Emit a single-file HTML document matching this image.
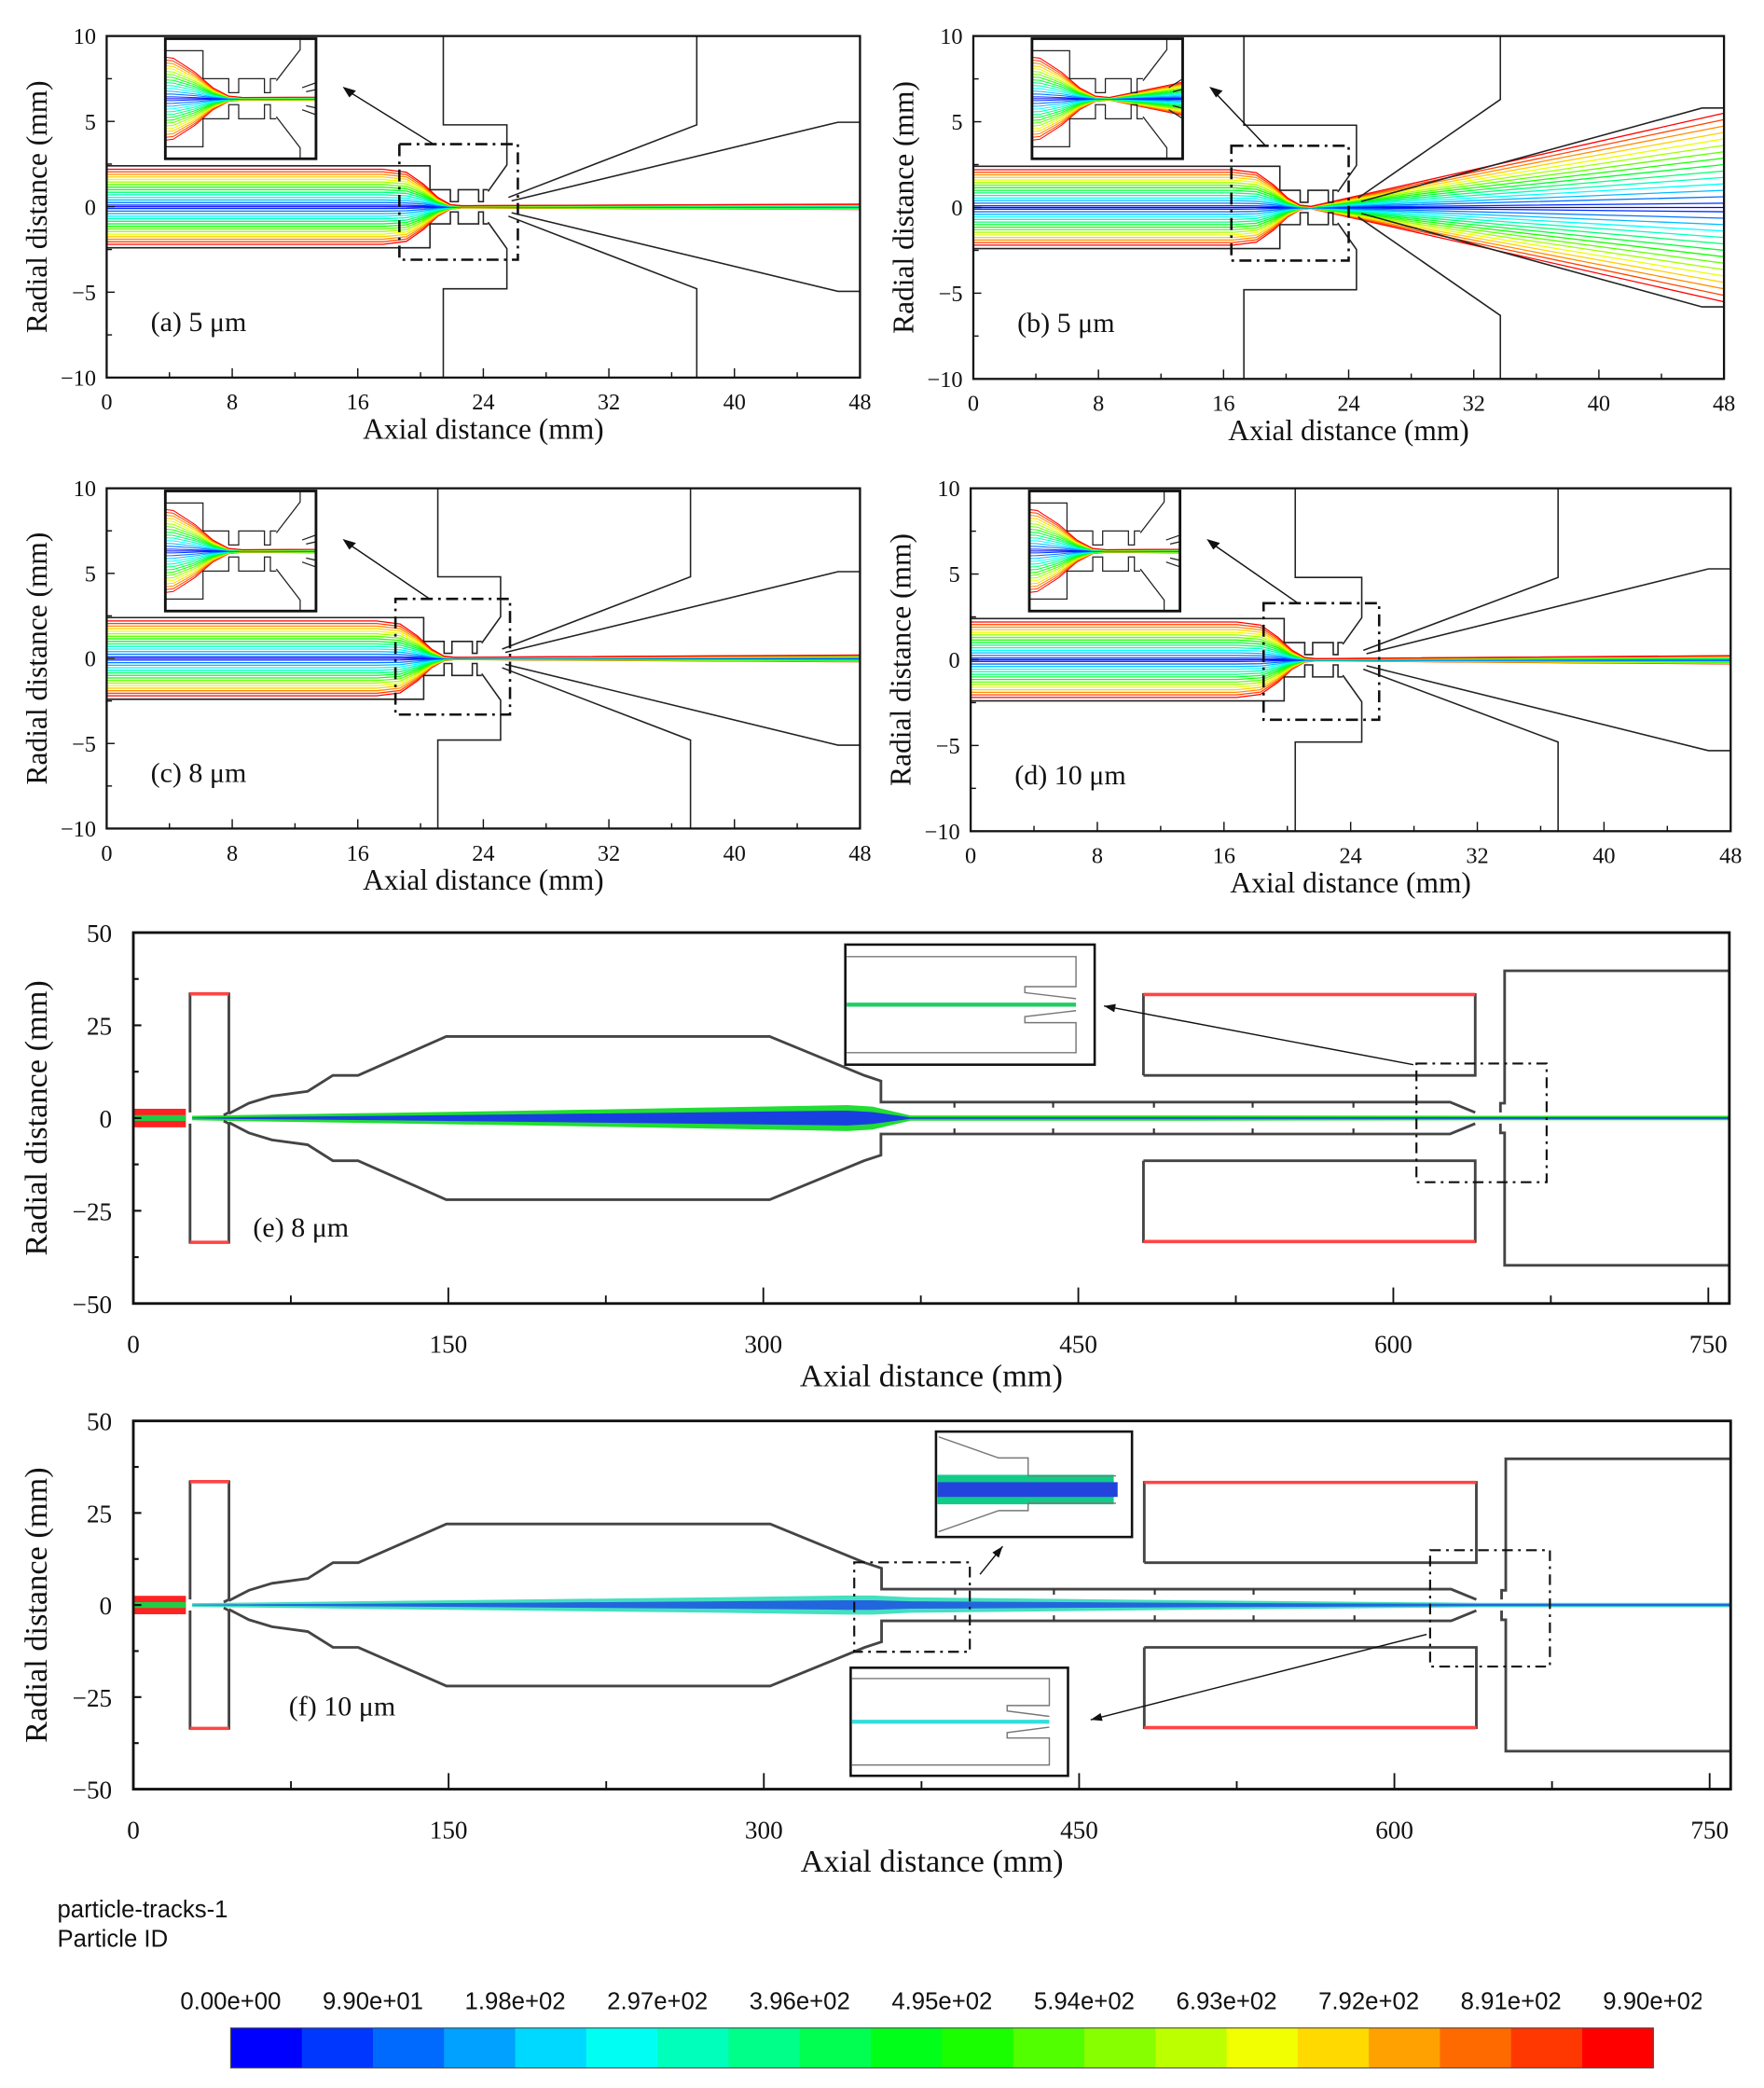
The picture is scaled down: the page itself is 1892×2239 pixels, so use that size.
<!DOCTYPE html>
<html><head><meta charset="utf-8"><style>
html,body{margin:0;padding:0;background:#fff}
svg{display:block}
text{font-family:"Liberation Serif",serif;fill:#111}
.sans{font-family:"Liberation Sans",sans-serif}
</style></head><body>
<svg id="fig" width="1892" height="2239" viewBox="0 0 1323 1565" preserveAspectRatio="none" xmlns="http://www.w3.org/2000/svg">
<rect width="1323" height="1565" fill="#fff"/>
<defs>
<clipPath id="cbclip"><rect x="0" y="1480" width="1276" height="40"/></clipPath>
</defs>
<g id="root"></g>
</svg>
<script>
// ---- data ----
const streamStarts=[-2.2,-2.05,-1.9,-1.75,-1.6,-1.45,-1.3,-1.15,-1.0,-0.85,-0.7,-0.55,-0.4,-0.25,-0.1,0,0.1,0.25,0.4,0.55,0.7,0.85,1.0,1.15,1.3,1.45,1.6,1.75,1.9,2.05,2.2];
const smallXTicks=[0,8,16,24,32,40,48];
const smallYTicks=[10,5,0,-5,-10];
const bigXTicks=[0,150,300,450,600,750];
const bigYTicks=[50,25,0,-25,-50];
const spreadA=0.07, spreadB=2.5, spreadC=0.09, spreadD=0.11;
const jetX=[28,60,120,200,280,340,352,370,500,640,760];
const jetOuterE=[0.6,0.9,1.4,2.1,2.9,3.5,3.1,0.7,0.7,0.6,0.6];
const jetInnerE=[0.1,0.3,0.6,1.1,1.6,2.0,1.6,0.2,0.2,0.2,0.2];
const jetOuterF=[0.5,0.7,1.1,1.6,2.1,2.6,2.6,2.1,1.3,0.6,0.6];
const jetInnerF=[0.1,0.2,0.4,0.7,1.0,1.3,1.3,1.0,0.6,0.3,0.3];
const cbLabels=["0.00e+00","9.90e+01","1.98e+02","2.97e+02","3.96e+02","4.95e+02","5.94e+02","6.93e+02","7.92e+02","8.91e+02","9.90e+02"];
const cbSegments=20;

const NS="http://www.w3.org/2000/svg";
const root=document.getElementById('root');
function el(tag,attrs,parent,txt){const e=document.createElementNS(NS,tag);for(const k in attrs)e.setAttribute(k,attrs[k]);if(txt!==undefined)e.textContent=txt;(parent||root).appendChild(e);return e;}
function pathD(pts,X,Y){return pts.map((p,i)=>(i?'L':'M')+X(p[0]).toFixed(2)+' '+Y(p[1]).toFixed(2)).join('');}
function hueColor(n){return 'hsl('+(240*(1-n)).toFixed(0)+',100%,50%)';}
function mirror(pts){return pts.map(p=>[p[0],-p[1]]);}

function smallContent(g,X,Y,p,sw){
  streamStarts.forEach(s=>{
    const n=Math.abs(s)/2.2;const t=p.t;
    let pts=[[0,s],[t-3,s],[t-1.5,s*0.92],[t-0.4,s*0.6],[t+0.5,s*0.25],[t+1.3,s*0.06],[t+2,s*0.03],[48,s*p.spread]];
    const e=el('path',{d:pathD(pts,X,Y),fill:'none',stroke:hueColor(n),'stroke-width':0.9*sw},g);
    
    
  });
  const t=p.t;
  const geo=[
    [[0,2.4],[t,2.4],[t,1.0],[t+1.3,1.0],[t+1.3,0.3],[t+1.8,0.3],[t+1.8,1.0],[t+3.1,1.0],[t+3.1,0.3],[t+3.4,0.3],[t+3.4,1.0],[t+3.7,1.0]],
    [[p.w,10],[p.w,4.8],[t+4.9,4.8],[t+4.9,2.45],[t+3.7,0.9]],
    [[t+5.0,0.55],[p.c1,p.c1y],[p.c1,10]],
    [[t+5.2,0.35],[46.6,p.ce],[48,p.ce]]
  ];
  geo.forEach(pts=>{
    [pts,mirror(pts)].forEach(q=>{
      const e=el('path',{d:pathD(q,X,Y),fill:'none',stroke:'#222','stroke-width':1.1*sw},g);
      
      
    });
  });
}

function smallPanel(id,x0,x1,y0,y1,p,label){
  const g=el('g',{});
  
  
  const X=v=>x0+(x1-x0)*v/48, Y=v=>y0+(y1-y0)*(10-v)/20;
  const cid='clip'+id;
  const cpp=el('clipPath',{id:cid},g);el('rect',{x:x0,y:y0,width:x1-x0,height:y1-y0},cpp);
  const c=el('g',{'clip-path':'url(#'+cid+')'},g);
  smallContent(c,X,Y,p,1);
  const db=el('rect',{x:X(p.db[0]),y:Y(p.db[3]),width:X(p.db[1])-X(p.db[0]),height:Y(p.db[2])-Y(p.db[3]),fill:'none',stroke:'#111','stroke-width':1.8,'stroke-dasharray':'9 4 2 4'},g);
  
  
  const ix0=x0+44,iy0=y0+2,iw=113,ih=90;
  const icid='iclip'+id;
  const cp=el('clipPath',{id:icid},g);el('rect',{x:ix0,y:iy0,width:iw,height:ih},cp);
  el('rect',{x:ix0,y:iy0,width:iw,height:ih,fill:'#fff'},g);
  const ig=el('g',{'clip-path':'url(#'+icid+')'},g);
  const IX=v=>ix0+iw*(v-(p.t-1.9))/7.6, IY=v=>iy0+ih*(3-v)/6;
  smallContent(ig,IX,IY,p,0.8);
  const ib=el('rect',{x:ix0,y:iy0,width:iw,height:ih,fill:'none',stroke:'#111','stroke-width':2},g);
  
  
  const ax=X(p.db[0]+1.5),ay=Y(p.db[3]);
  const ar=el('line',{x1:ax+8,y1:ay,x2:ix0+iw+22,y2:iy0+38,stroke:'#111','stroke-width':1},g);
  
  
  el('path',{d:'M'+(ix0+iw+20)+' '+(iy0+36)+' l10 3 l-5 5 z',fill:'#111'},g);
  el('rect',{x:x0,y:y0,width:x1-x0,height:y1-y0,fill:'none',stroke:'#111','stroke-width':1.6},g);
  for(let v=0;v<=48;v+=4){const L=(v%8===0)?7:4;el('line',{x1:X(v),x2:X(v),y1:y1,y2:y1-L,stroke:'#111','stroke-width':1},g);}
  for(let v=-10;v<=10;v+=2.5){el('line',{x1:x0,x2:x0+(v%5===0?6:4),y1:Y(v),y2:Y(v),stroke:'#111','stroke-width':1},g);}
  smallXTicks.forEach(v=>{const t=el('text',{x:X(v),y:y1+24,'text-anchor':'middle','font-size':17},g,String(v));});
  smallYTicks.forEach(v=>{const t=el('text',{x:x0-8,y:Y(v)+6,'text-anchor':'end','font-size':17},g,v<0?'\u2212'+(-v):String(v));});
  const xt=el('text',{x:(x0+x1)/2,y:y1+46,'text-anchor':'middle','font-size':22},g,'Axial distance (mm)');
  
  const yt=el('text',{x:0,y:0,'text-anchor':'middle','font-size':22,transform:'translate('+(x0-45)+','+((y0+y1)/2)+') rotate(-90)'},g,'Radial distance (mm)');
  
  const pl=el('text',{x:x0+33,y:y1-35,'font-size':21},g,label);
  
}

smallPanel('a',80,645,27,283,{t:20.6,w:21.45,c1:37.6,c1y:4.8,ce:4.95,spread:spreadA,db:[18.65,26.2,-3.1,3.67]},'(a) 5 \u03bcm');
smallPanel('b',730,1293,27,284,{t:19.6,w:17.3,c1:33.7,c1y:6.3,ce:5.8,spread:spreadB,db:[16.5,24,-3.1,3.6]},'(b) 5 \u03bcm');
smallPanel('c',80,645,366,621,{t:20.2,w:21.1,c1:37.2,c1y:4.8,ce:5.1,spread:spreadC,db:[18.4,25.7,-3.3,3.5]},'(c) 8 \u03bcm');
smallPanel('d',728,1298,366,623,{t:19.8,w:20.5,c1:37.1,c1y:4.8,ce:5.3,spread:spreadD,db:[18.5,25.8,-3.5,3.3]},'(d) 10 \u03bcm');

function bigPanel(id,x0,x1,y0,y1,jo,ji,innerCol,tailCol,label,boxes){
  const g=el('g',{});
  
  
  const X=v=>x0+(x1-x0)*v/760, Y=v=>(y0+y1)/2-(y1-y0)*v/100;
  const outer=jetX.map((x,i)=>[x,jo[i]]).concat(jetX.map((x,i)=>[x,-jo[i]]).reverse());
  const inner=jetX.map((x,i)=>[x,ji[i]]).concat(jetX.map((x,i)=>[x,-ji[i]]).reverse());
  const j1=el('path',{d:pathD(outer,X,Y)+'Z',fill:tailCol,stroke:'none'},g);
  
  const j2=el('path',{d:pathD(inner,X,Y)+'Z',fill:innerCol,stroke:'none'},g);
  
  el('rect',{x:X(0),y:Y(2.5),width:X(25)-X(0),height:Y(-2.5)-Y(2.5),fill:'#f22'},g);
  el('rect',{x:X(0),y:Y(0.8),width:X(25)-X(0),height:Y(-0.8)-Y(0.8),fill:'#2c4'},g);
  const W=(pts,col,w)=>{[pts,mirror(pts)].forEach(q=>{const e=el('path',{d:pathD(q,X,Y),fill:'none',stroke:col||'#444','stroke-width':w||2},g);});};
  W([[27,1.5],[27,33.5],[45.5,33.5],[45.5,1.5],[43,0.8]]);
  W([[27,33.5],[45.5,33.5]],'#f44',2.5);
  W([[45.5,1.2],[55,4],[66,5.9],[83,7.2],[95,11.5],[107,11.5],[149,22],[303,22],[348,11.5],[356,10],[356,4.3],[627,4.3],[639,1.5]]);
  [391,438,486,533,581].forEach(v=>W([[v,4.3],[v,2.8]],'#333',1.5));
  W([[481,11.5],[481,33.3],[639,33.3],[639,11.5],[481,11.5]]);
  W([[481,33.3],[639,33.3]],'#f44',2.5);
  W([[651,1.5],[651,4],[653,4],[653,39.7],[760,39.7]]);
  boxes.db.forEach(b=>{const r=el('rect',{x:X(b[0]),y:Y(b[3]),width:X(b[1])-X(b[0]),height:Y(b[2])-Y(b[3]),fill:'none',stroke:'#111','stroke-width':1.5,'stroke-dasharray':'8 4 2 4'},g);});
  boxes.insets.forEach(b=>{
    el('rect',{x:b[0],y:b[1],width:b[2]-b[0],height:b[3]-b[1],fill:'#fff',stroke:'#111','stroke-width':1.8},g);
    const h=b[3]-b[1],w=b[2]-b[0],cy=b[1]+h*0.55;
    if(b[4]==='jet'){
      el('rect',{x:b[0]+1,y:cy-h*0.14,width:w*0.9,height:h*0.28,fill:'#1c8'},g);
      el('rect',{x:b[0]+1,y:cy-h*0.07,width:w*0.92,height:h*0.14,fill:'#24d'},g);
      el('path',{d:`M${b[0]+2} ${b[1]+h*0.05}L${b[0]+w*0.32} ${b[1]+h*0.25}L${b[0]+w*0.47} ${b[1]+h*0.25}L${b[0]+w*0.47} ${cy-h*0.13}L${b[2]-12} ${cy-h*0.13}M${b[0]+2} ${b[3]-h*0.05}L${b[0]+w*0.32} ${b[3]-h*0.25}L${b[0]+w*0.47} ${b[3]-h*0.25}L${b[0]+w*0.47} ${cy+h*0.13}L${b[2]-12} ${cy+h*0.13}`,fill:'none',stroke:'#777','stroke-width':1},g);
    } else {
      el('line',{x1:b[0]+1,x2:b[2]-14,y1:b[1]+h*0.5,y2:b[1]+h*0.5,stroke:b[4],'stroke-width':3},g);
      el('path',{d:`M${b[0]+1} ${b[1]+h*0.1}H${b[2]-14}V${b[1]+h*0.35}H${b[0]+w*0.72}V${b[1]+h*0.4}L${b[2]-14} ${b[1]+h*0.45}M${b[0]+1} ${b[3]-h*0.1}H${b[2]-14}V${b[3]-h*0.35}H${b[0]+w*0.72}V${b[3]-h*0.4}L${b[2]-14} ${b[3]-h*0.45}`,fill:'none',stroke:'#777','stroke-width':1},g);
    }
  });
  boxes.arrows.forEach(a=>{const l=el('line',{x1:a[0],y1:a[1],x2:a[2],y2:a[3],stroke:'#111','stroke-width':1},g);
    const ang=Math.atan2(a[3]-a[1],a[2]-a[0]);const s=9;
    el('path',{d:`M${a[2]} ${a[3]}L${a[2]-s*Math.cos(ang-0.35)} ${a[3]-s*Math.sin(ang-0.35)}L${a[2]-s*Math.cos(ang+0.35)} ${a[3]-s*Math.sin(ang+0.35)}Z`,fill:'#111'},g);});
  el('rect',{x:x0,y:y0,width:x1-x0,height:y1-y0,fill:'none',stroke:'#111','stroke-width':2},g);
  for(let v=0;v<=750;v+=75){el('line',{x1:X(v),x2:X(v),y1:y1,y2:y1-(v%150===0?12:6),stroke:'#111','stroke-width':1.3},g);}
  for(let v=-50;v<=50;v+=12.5){el('line',{x1:x0,x2:x0+(v%25===0?6:4),y1:Y(v),y2:Y(v),stroke:'#111','stroke-width':1.5},g);}
  bigXTicks.forEach(v=>{const t=el('text',{x:X(v),y:y1+37,'text-anchor':'middle','font-size':19},g,String(v));});
  bigYTicks.forEach(v=>{const t=el('text',{x:x0-16,y:Y(v)+7,'text-anchor':'end','font-size':19},g,v<0?'\u2212'+(-v):String(v));});
  const xt=el('text',{x:(x0+x1)/2,y:y1+62,'text-anchor':'middle','font-size':24},g,'Axial distance (mm)');
  
  const yt=el('text',{x:0,y:0,'text-anchor':'middle','font-size':24,transform:'translate('+(x0-65)+','+((y0+y1)/2)+') rotate(-90)'},g,'Radial distance (mm)');
  
  const pl=el('text',{x:X(label[1]),y:Y(label[2]),'font-size':21},g,label[0]);
  
}
bigPanel('e',100,1297,699,977,jetOuterE,jetInnerE,'#1840e0','#22dd33',['(e) 8 \u03bcm',57,-32],
  {db:[[611,673,-17.3,14.7]],insets:[[634,708,821,798,'#2c6']],arrows:[[1060,798,828,754]]});
bigPanel('f',100,1298,1065,1341,jetOuterF,jetInnerF,'#2266dd','#44e0c0',['(f) 10 \u03bcm',74,-30],
  {db:[[343,398,-12.7,11.6],[617,674,-16.7,14.9]],insets:[[702,1073,849,1152,'jet'],[638,1250,801,1331,'#3dd']],arrows:[[735,1180,752,1159],[1070,1225,818,1289]]});

const t1=el('text',{x:43,y:1437,'font-size':18,class:'sans'},root,'particle-tracks-1');
const t2=el('text',{x:43,y:1459,'font-size':18,class:'sans'},root,'Particle ID');
const cbx0=173,cbx1=1240,cby=1520,cbh=30;
const cb=el('g',{});
for(let i=0;i<cbSegments;i++){const w=(cbx1-cbx0)/cbSegments;const r=el('rect',{x:cbx0+i*w,y:cby,width:w+0.5,height:cbh,fill:hueColor(i/(cbSegments-1))},cb);}
el('rect',{x:cbx0,y:cby,width:cbx1-cbx0,height:cbh,fill:'none',stroke:'#555','stroke-width':0.8},cb);
const cbl=el('g',{'clip-path':'url(#cbclip)'},cb);
cbLabels.forEach((s,i)=>{const t=el('text',{x:cbx0+i*(cbx1-cbx0)/10,y:1506,'text-anchor':'middle','font-size':18,class:'sans'},cbl,s);});
</script>
</body></html>
